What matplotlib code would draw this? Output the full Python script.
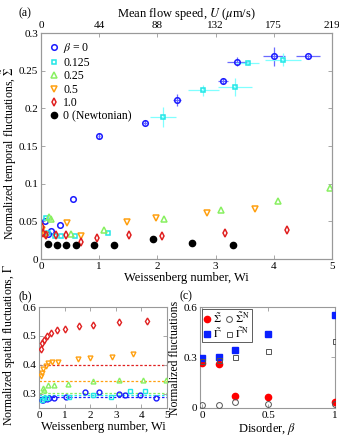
import numpy as np
import matplotlib
matplotlib.use("Agg")
import matplotlib.pyplot as plt

plt.rcParams['font.family'] = 'serif'
plt.rcParams['font.serif'] = ['Liberation Serif', 'DejaVu Serif']
plt.rcParams['mathtext.fontset'] = 'stix'
plt.rcParams['font.size'] = 8

# ---------------- Panel (a) data ----------------
wi_b0 = [0.07, 0.12, 0.17, 0.32, 0.55, 1.00, 1.79, 2.34, 3.13, 3.37, 4.00, 4.59]
sig_b0 = [0.050, 0.033, 0.037, 0.045, 0.080, 0.164, 0.181, 0.211, 0.236, 0.262, 0.269, 0.269]
xerr_b0 = [0, 0, 0, 0, 0, 0.02, 0.03, 0.07, 0.09, 0.17, 0.19, 0.21]
yerr_b0 = [0, 0, 0, 0, 0, 0.004, 0.003, 0.008, 0.004, 0.006, 0.013, 0.003]

wi_b125 = [0.09, 0.12, 0.24, 0.34, 0.59, 1.16, 2.10, 2.79, 3.33, 3.55, 4.16]
sig_b125 = [0.055, 0.035, 0.031, 0.031, 0.031, 0.035, 0.1885, 0.224, 0.228, 0.261, 0.265]
xerr_b125 = [0, 0, 0, 0, 0, 0, 0.22, 0.27, 0.29, 0.20, 0.31]
yerr_b125 = [0, 0, 0, 0, 0, 0, 0.013, 0.007, 0.012, 0.003, 0.009]

wi_b25 = [0.14, 0.18, 0.52, 1.09, 2.12, 3.10, 4.07, 4.96]
sig_b25 = [0.056, 0.053, 0.033, 0.039, 0.053, 0.065, 0.077, 0.094]

wi_b5 = [0.02, 0.06, 0.44, 0.69, 1.48, 1.97, 2.85, 3.67]
sig_b5 = [0.038, 0.032, 0.048, 0.030, 0.049, 0.054, 0.061, 0.066]

wi_b1 = [0.02, 0.03, 0.08, 0.26, 0.43, 0.69, 0.97, 1.51, 2.08, 3.16, 4.22]
sig_b1 = [0.042, 0.035, 0.032, 0.032, 0.032, 0.023, 0.028, 0.032, 0.031, 0.034, 0.039]

wi_newt = [0.12, 0.28, 0.43, 0.60, 0.91, 1.25, 1.92, 2.59, 3.30]
sig_newt = [0.0195, 0.018, 0.019, 0.019, 0.018, 0.018, 0.026, 0.021, 0.0186]

top_tick_labels = ['0', '44', '88', '132', '175', '219']

# ---------------- Panel (b) data ----------------
wi_g1 = [0.07, 0.13, 0.21, 0.30, 0.47, 0.72, 1.03, 1.55, 2.11, 3.13, 4.20]
gam_g1 = [0.455, 0.475, 0.487, 0.499, 0.510, 0.519, 0.524, 0.533, 0.537, 0.547, 0.552]
wi_g5 = [0.07, 0.11, 0.17, 0.26, 0.36, 0.50, 0.75, 1.51, 1.99, 2.85, 3.67]
gam_g5 = [0.360, 0.372, 0.385, 0.396, 0.405, 0.408, 0.411, 0.419, 0.422, 0.428, 0.437]
wi_g25 = [0.14, 0.21, 0.36, 0.59, 1.15, 2.12, 3.13, 4.07, 4.95]
gam_g25 = [0.320, 0.311, 0.328, 0.331, 0.334, 0.345, 0.348, 0.348, 0.346]
wi_g125 = [0.10, 0.20, 0.30, 1.17, 2.12, 2.81, 3.55, 4.13]
gam_g125 = [0.279, 0.283, 0.286, 0.287, 0.294, 0.287, 0.308, 0.308]
wi_g0 = [0.10, 0.17, 0.30, 0.40, 0.59, 1.05, 1.80, 2.34, 3.13, 3.36, 3.96, 4.56]
gam_g0 = [0.277, 0.279, 0.281, 0.285, 0.283, 0.289, 0.305, 0.305, 0.299, 0.294, 0.294, 0.283]
gamN_lines = [0.288, 0.295, 0.301, 0.342, 0.400]

# ---------------- Panel (c) data ----------------
beta = [0.0, 0.125, 0.25, 0.5, 1.0]
sig_c = [0.265, 0.261, 0.073, 0.067, 0.037]
sigN_c = [0.018, 0.018, 0.037, 0.022, 0.022]
gam_c = [0.295, 0.305, 0.345, 0.440, 0.553]
gamN_c = [0.281, 0.285, 0.301, 0.340, 0.398]

C_BLUE = '#1a1aff'
C_CYAN = '#22e6e6'
C_GREEN = '#88f060'
C_ORANGE = '#ffa010'
C_RED = '#e02020'
SPINE = '#999999'
LFS = 9
YFS = 8.5

fig = plt.figure(figsize=(3.39, 4.42), dpi=100)


def style(ax, top=True, right=True):
    for s in ax.spines.values():
        s.set_color(SPINE)
        s.set_linewidth(0.8)
    ax.tick_params(direction='in', length=3, width=0.6, color=SPINE,
                   top=top, right=right, labelsize=8, pad=2)


# ---- (a)
axa = fig.add_axes([0.121, 0.414, 0.858, 0.511])
ms = 4
mew = 1.1
axa.errorbar(wi_b0, sig_b0, xerr=xerr_b0, yerr=yerr_b0, fmt='none',
             ecolor='#6a6aff', elinewidth=0.9, capsize=0, zorder=2)
axa.errorbar(wi_b125, sig_b125, xerr=xerr_b125, yerr=yerr_b125, fmt='none',
             ecolor='#80ffff', elinewidth=0.9, capsize=0, zorder=2)
axa.plot(wi_b0, sig_b0, 'o', mfc='none', mec=C_BLUE, ms=ms, mew=mew, ls='none',
         label=r'$\beta$ = 0', zorder=3)
axa.plot(wi_b125, sig_b125, 's', mfc='none', mec=C_CYAN, ms=ms - 0.5, mew=mew, ls='none',
         label='0.125', zorder=3)
axa.plot(wi_b25, sig_b25, '^', mfc='none', mec=C_GREEN, ms=ms, mew=mew, ls='none',
         label='0.25', zorder=3)
axa.plot(wi_b5, sig_b5, 'v', mfc='none', mec=C_ORANGE, ms=ms, mew=mew, ls='none',
         label='0.5', zorder=3)
axa.plot(wi_b1, sig_b1, 'd', mfc='none', mec=C_RED, ms=ms, mew=mew, ls='none',
         label='1.0', zorder=3)
axa.plot(wi_newt, sig_newt, 'o', color='black', ms=ms + 0.5, ls='none',
         label='0 (Newtonian)', zorder=3)
axa.set_xlim(0, 5)
axa.set_ylim(0, 0.3)
axa.set_xticks([0, 1, 2, 3, 4, 5])
axa.set_yticks([0, 0.05, 0.1, 0.15, 0.2, 0.25, 0.3])
axa.set_yticklabels(['0', '0.05', '0.1', '0.15', '0.2', '0.25', '0.3'])
style(axa, top=False, right=True)
axa.set_xlabel('Weissenberg number, Wi', fontsize=LFS, labelpad=1)
axa.set_ylabel(r'Normalized temporal fluctuations, $\tilde{\Sigma}$', fontsize=YFS)
axa.yaxis.set_label_coords(-0.077, 0.47)
leg = axa.legend(loc='upper left', frameon=False, fontsize=8.5, handlelength=0.8,
                 handletextpad=0.4, labelspacing=0.12, borderaxespad=0.3)

axt = axa.twiny()
axt.set_xlim(0, 5)
axt.set_xticks([0, 1, 2, 3, 4, 5])
axt.set_xticklabels(top_tick_labels)
style(axt, top=True, right=True)
axt.tick_params(bottom=False, labelbottom=False, top=True, labeltop=True)
axt.set_xlabel(r'Mean flow speed, $U$ ($\mu$m/s)', fontsize=LFS, labelpad=3)

fig.text(0.055, 0.962, '(a)', fontsize=8.5)

# ---- (b)
axb = fig.add_axes([0.115, 0.077, 0.378, 0.2284])
colors_lines = [C_BLUE, C_CYAN, C_GREEN, C_ORANGE, C_RED]
for yv, c in zip(gamN_lines, colors_lines):
    axb.axhline(yv, color=c, ls=(0, (2, 1.5)), lw=0.9, zorder=1)
msb = 3.5
axb.plot(wi_g0, gam_g0, 'o', mfc='none', mec=C_BLUE, ms=msb, mew=1, ls='none', zorder=3)
axb.plot(wi_g125, gam_g125, 's', mfc='none', mec=C_CYAN, ms=msb - 0.5, mew=1, ls='none', zorder=3)
axb.plot(wi_g25, gam_g25, '^', mfc='none', mec=C_GREEN, ms=msb, mew=1, ls='none', zorder=3)
axb.plot(wi_g5, gam_g5, 'v', mfc='none', mec=C_ORANGE, ms=msb, mew=1, ls='none', zorder=3)
axb.plot(wi_g1, gam_g1, 'd', mfc='none', mec=C_RED, ms=msb, mew=1, ls='none', zorder=3)
axb.set_xlim(0, 5)
axb.set_ylim(0.25, 0.6)
axb.set_xticks([0, 1, 2, 3, 4, 5])
axb.set_yticks([0.3, 0.4, 0.5, 0.6])
axb.set_yticklabels(['0.3', '0.4', '0.5', '0.6'])
style(axb)
axb.set_xlabel('Weissenberg number, Wi', fontsize=LFS, labelpad=1)
axb.set_ylabel(r'Normalized spatial fluctuations, $\tilde{\Gamma}$', fontsize=YFS)
axb.yaxis.set_label_coords(-0.162, 0.62)
fig.text(0.055, 0.322, '(b)', fontsize=8.5)

# ---- (c)
axc = fig.add_axes([0.59, 0.077, 0.398, 0.2284])
axc.plot(beta, sig_c, 'o', color='red', ms=4.5, ls='none', label=r'$\tilde{\Sigma}$', zorder=3)
axc.plot(beta, gam_c, 's', color='#0a20ff', ms=3.8, ls='none', label=r'$\tilde{\Gamma}$', zorder=3)
axc.plot(beta, sigN_c, 'o', mfc='none', mec='#555555', ms=4.2, mew=0.7, ls='none',
         label=r'$\tilde{\Sigma}^{\mathrm{N}}$', zorder=3)
axc.plot(beta, gamN_c, 's', mfc='none', mec='#555555', ms=3.6, mew=0.7, ls='none',
         label=r'$\tilde{\Gamma}^{\mathrm{N}}$', zorder=3)
axc.set_xlim(-0.015, 1.0)
axc.set_ylim(0, 0.6)
axc.set_xticks([0, 0.5, 1])
axc.set_xticklabels(['0', '0.5', '1'])
axc.set_yticks([0, 0.3, 0.6])
axc.set_yticklabels(['0', '0.3', '0.6'])
style(axc)
axc.set_xlabel(r'Disorder, $\beta$', fontsize=LFS, labelpad=1)
axc.set_ylabel('Normalized fluctuations', fontsize=YFS)
axc.yaxis.set_label_coords(-0.14, 0.5)
legc = axc.legend(loc='upper left', ncol=2, fontsize=8, handlelength=0.6,
                  handletextpad=0.2, columnspacing=0.4, labelspacing=0.1,
                  borderpad=0.2, borderaxespad=0.15, fancybox=False, framealpha=1)
legc.get_frame().set_edgecolor('#444444')
legc.get_frame().set_linewidth(0.6)
fig.text(0.53, 0.322, '(c)', fontsize=8.5)

fig.savefig('out.png', dpi=100)
